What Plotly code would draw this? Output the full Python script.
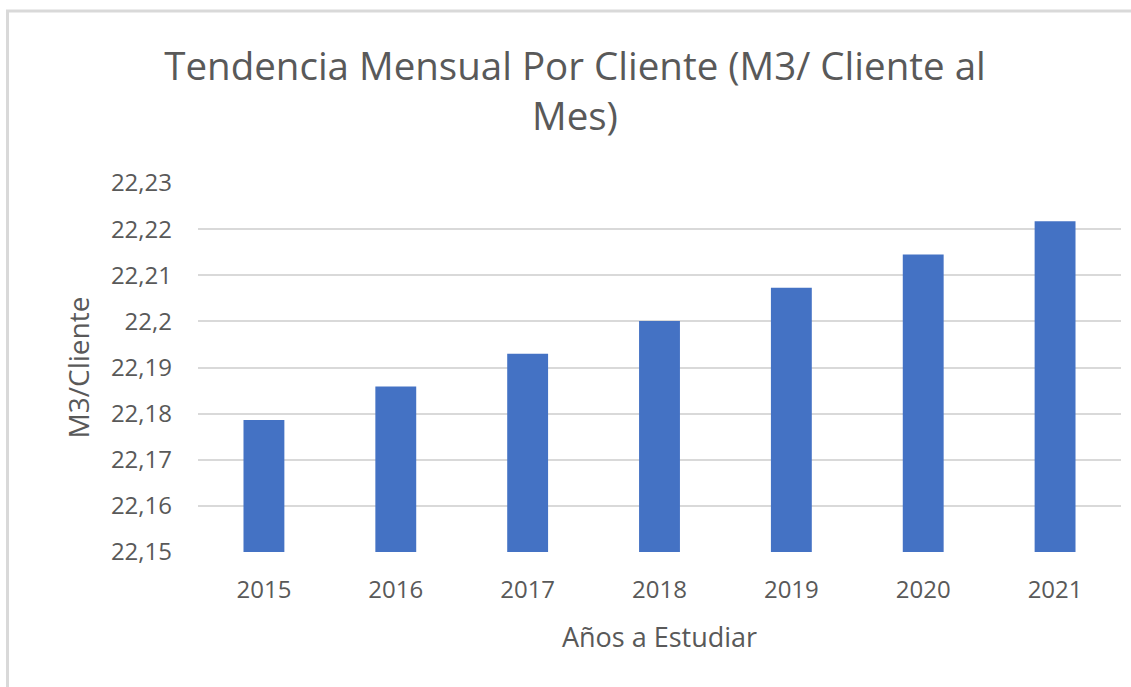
import plotly.graph_objects as go

years = ["2015", "2016", "2017", "2018", "2019", "2020", "2021"]
values = [22.1786, 22.1859, 22.1930, 22.2001, 22.2073, 22.2145, 22.2217]
ytick_vals = [22.15, 22.16, 22.17, 22.18, 22.19, 22.20, 22.21, 22.22, 22.23]
ytick_text = ["22,15", "22,16", "22,17", "22,18", "22,19", "22,2", "22,21", "22,22", "22,23"]

W, H = 1131, 687
L, R, T, B = 198, 10, 183, 135
PW, PH = W - L - R, H - T - B

def px_x(x):
    return (x - L) / PW

def px_y(y):
    return 1 - (y - T) / PH

FONT = "Open Sans"
GRAY = "#595959"
GRID = "#d9d9d9"

fig = go.Figure(go.Bar(
    x=years, y=values,
    marker=dict(color="#4472C4", line=dict(width=0)),
    width=0.31,
))

fig.update_layout(
    width=W, height=H,
    margin=dict(l=L, r=R, t=T, b=B),
    paper_bgcolor="white", plot_bgcolor="white",
    showlegend=False,
    separators=",.",
    font=dict(family=FONT, color=GRAY),
    title=dict(
        text="Tendencia Mensual Por Cliente (M3/ Cliente al<br>Mes)",
        x=575 / W, xanchor="center", xref="container",
        y=1 - 80 / H, yanchor="middle", yref="container",
        font=dict(size=38.5, color=GRAY, family=FONT),
    ),
    xaxis=dict(
        title=dict(text="Años a Estudiar", font=dict(size=27, color=GRAY), standoff=24),
        tickfont=dict(size=24, color=GRAY),
        showgrid=False, showline=False, ticks="",
        ticklabelstandoff=21,
    ),
    yaxis=dict(
        range=[22.15, 22.23],
        tickvals=ytick_vals, ticktext=ytick_text,
        tickfont=dict(size=24, color=GRAY),
        title=dict(text="M3/Cliente", font=dict(size=28, color=GRAY), standoff=13),
        showgrid=True, gridcolor=GRID, gridwidth=1.5,
        zeroline=False, showline=False, ticks="",
        ticklabelstandoff=25,
    ),
    shapes=[
        dict(type="line", xref="paper", yref="paper",
             x0=px_x(6), x1=px_x(W + 5), y0=px_y(11), y1=px_y(11),
             line=dict(color=GRID, width=3)),
        dict(type="line", xref="paper", yref="paper",
             x0=px_x(7.5), x1=px_x(7.5), y0=px_y(10), y1=px_y(H + 5),
             line=dict(color=GRID, width=3)),
    ],
)

fig.write_html(
    "out.html",
    config={"displayModeBar": False},
    post_script="document.body.style.margin='0';document.body.style.overflow='hidden';",
)
